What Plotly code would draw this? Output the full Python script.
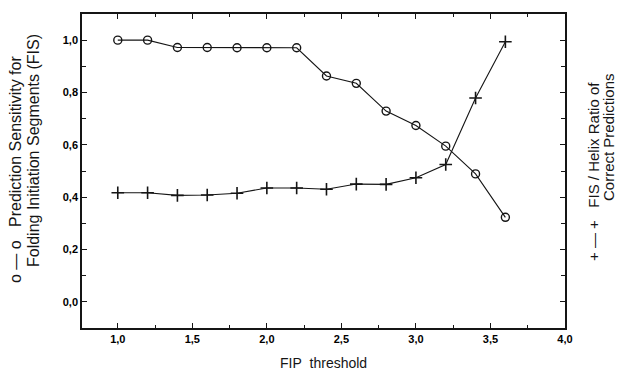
import plotly.graph_objects as go

fip_threshold = [1.0, 1.2, 1.4, 1.6, 1.8, 2.0, 2.2, 2.4, 2.6, 2.8, 3.0, 3.2, 3.4, 3.6]
sensitivity_fis = [1.0, 1.0, 0.972, 0.972, 0.971, 0.971, 0.971, 0.863, 0.835, 0.729, 0.674, 0.595, 0.489, 0.323]
fis_helix_ratio = [0.417, 0.417, 0.407, 0.408, 0.415, 0.435, 0.435, 0.43, 0.45, 0.449, 0.474, 0.525, 0.779, 0.994]

x_tickvals = [1.0, 1.5, 2.0, 2.5, 3.0, 3.5, 4.0]
x_ticktext = ["1,0", "1,5", "2,0", "2,5", "3,0", "3,5", "4,0"]
y_tickvals = [0.0, 0.2, 0.4, 0.6, 0.8, 1.0]
y_ticktext = ["0,0", "0,2", "0,4", "0,6", "0,8", "1,0"]

ink = "#151515"
fig = go.Figure()
fig.add_trace(go.Scatter(
    x=fip_threshold, y=sensitivity_fis, mode="lines+markers",
    line=dict(color=ink, width=1.1),
    marker=dict(symbol="circle-open", size=8, color=ink, line=dict(width=1.4)),
    showlegend=False))
fig.add_trace(go.Scatter(
    x=fip_threshold, y=fis_helix_ratio, mode="lines+markers",
    line=dict(color=ink, width=1.1),
    marker=dict(symbol="cross-thin", size=9, color=ink, line=dict(width=1.6, color=ink)),
    showlegend=False))

axis_common = dict(showline=True, linecolor=ink, linewidth=1.6, mirror="ticks",
                   ticks="inside", tickcolor=ink, ticklen=5, tickwidth=1.3,
                   showgrid=False, zeroline=False,
                   tickfont=dict(family="Liberation Sans", size=11, color="#000000", weight="bold"))
fig.update_xaxes(range=[0.76, 4.0], tickvals=x_tickvals, ticktext=x_ticktext,
                 minor=dict(ticks="inside", dtick=0.25, tick0=0, ticklen=3, tickcolor=ink),
                 **axis_common)
fig.update_yaxes(range=[-0.1, 1.1], tickvals=y_tickvals, ticktext=y_ticktext,
                 minor=dict(ticks="inside", dtick=0.1, tick0=0, ticklen=4, tickcolor=ink),
                 **axis_common)

W, H = 623, 372
ml, mr, mt, mb = 82, 58, 14, 44
pw, ph = W - ml - mr, H - mt - mb

def px(xp):
    return (xp - ml) / pw

def py(yp):
    return (H - mb - yp) / ph

lfont = dict(family="Liberation Sans", size=16, color=ink)
rfont = dict(family="Liberation Sans", size=15, color=ink)
nb = "\u00a0"
ann = [
    dict(text="o" + nb + "\u2014" + nb + "o" + nb * 3 + "Prediction Sensitivity for",
         x=px(15), y=py(170), textangle=-90, font=lfont),
    dict(text="Folding Initiation Segments (FIS)", x=px(33), y=py(151), textangle=-90, font=lfont),
    dict(text="+" + nb + "\u2014" + nb + "+" + nb * 3 + "FIS / Helix Ratio of",
         x=px(593), y=py(172), textangle=-90, font=rfont),
    dict(text="Correct Predictions", x=px(608), y=py(137), textangle=-90, font=rfont),
]
for a in ann:
    fig.add_annotation(xref="paper", yref="paper", showarrow=False,
                       xanchor="center", yanchor="middle", **a)
fig.add_annotation(xref="paper", yref="paper", showarrow=False, x=px(323), y=py(363),
                   xanchor="center", yanchor="middle",
                   text="FIP" + nb * 2 + "threshold",
                   font=dict(family="Liberation Sans", size=14, color=ink))

fig.update_layout(width=W, height=H, margin=dict(l=ml, r=mr, t=mt, b=mb),
                  paper_bgcolor="white", plot_bgcolor="white")
fig.write_html("out.html", config={"displayModeBar": False},
               post_script="document.body.style.margin='0';document.body.style.overflow='hidden';")
